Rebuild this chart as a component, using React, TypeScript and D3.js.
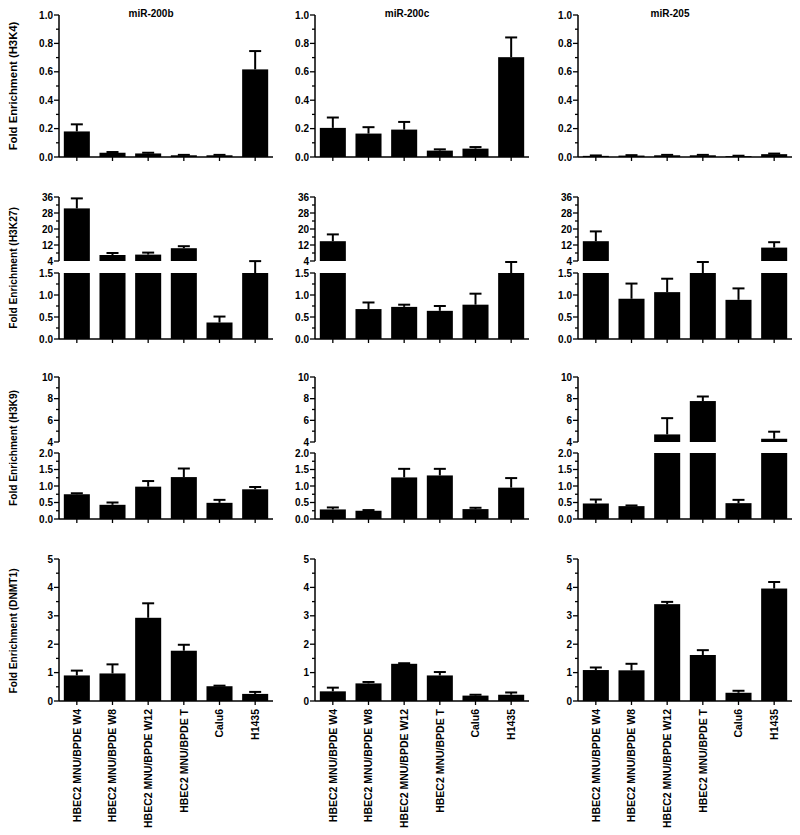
import React from "react";
import * as d3 from "d3";

const categories = [
  "HBEC2 MNU/BPDE W4",
  "HBEC2 MNU/BPDE W8",
  "HBEC2 MNU/BPDE W12",
  "HBEC2 MNU/BPDE T",
  "Calu6",
  "H1435",
];
const mirnas = ["miR-200b", "miR-200c", "miR-205"];
const marks = ["H3K4", "H3K27", "H3K9", "DNMT1"];

// mean values per miRNA column
const h3k4Mean = [
  [0.18, 0.03, 0.025, 0.012, 0.012, 0.617],
  [0.205, 0.165, 0.193, 0.045, 0.059, 0.703],
  [0.008, 0.01, 0.012, 0.012, 0.006, 0.02],
];
const h3k4Upper = [
  [0.23, 0.035, 0.03, 0.015, 0.015, 0.746],
  [0.278, 0.21, 0.247, 0.054, 0.07, 0.842],
  [0.011, 0.013, 0.015, 0.015, 0.009, 0.024],
];
const h3k27Mean = [
  [30.3, 7.0, 7.2, 10.4, 0.375, 1.5],
  [13.9, 0.68, 0.73, 0.64, 0.78, 1.5],
  [13.9, 0.915, 1.065, 1.5, 0.89, 10.7],
];
const h3k27Upper = [
  [35.3, 8.0, 8.2, 11.4, 0.51, 1.77],
  [17.3, 0.83, 0.78, 0.75, 1.03, 1.75],
  [18.8, 1.26, 1.37, 1.75, 1.15, 13.4],
];
const h3k9Mean = [
  [0.75, 0.43, 0.98, 1.27, 0.49, 0.9],
  [0.29, 0.25, 1.26, 1.32, 0.3, 0.95],
  [0.47, 0.39, 4.7, 7.78, 0.48, 4.3],
];
const h3k9Upper = [
  [0.78, 0.5, 1.15, 1.53, 0.58, 0.97],
  [0.35, 0.27, 1.52, 1.52, 0.34, 1.24],
  [0.59, 0.41, 6.2, 8.2, 0.58, 4.95],
];
const dnmt1Mean = [
  [0.9, 0.97, 2.93, 1.77, 0.52, 0.25],
  [0.34, 0.62, 1.31, 0.9, 0.19, 0.22],
  [1.09, 1.08, 3.41, 1.62, 0.29, 3.96],
];
const dnmt1Upper = [
  [1.07, 1.29, 3.44, 1.98, 0.54, 0.32],
  [0.47, 0.67, 1.33, 1.02, 0.22, 0.3],
  [1.18, 1.31, 3.49, 1.79, 0.36, 4.19],
];

const h3k4Ticks = [0, 0.2, 0.4, 0.6, 0.8, 1.0];
const h3k27LowTicks = [0, 0.5, 1.0, 1.5];
const h3k27HighTicks = [4, 12, 20, 28, 36];
const h3k9LowTicks = [0, 0.5, 1.0, 1.5, 2.0];
const h3k9HighTicks = [4, 6, 8, 10];
const dnmt1Ticks = [0, 1, 2, 3, 4, 5];

type Seg = {
  domain: [number, number];
  range: [number, number];
  ticks: number[];
  minor: number;
  fmt: (v: number) => string;
};

const f1 = d3.format(".1f");
const f0 = d3.format("d");

const rows: { segs: Seg[]; mean: number[][]; upper: number[][]; labelY: number; labelSize: number }[] = [
  {
    segs: [{ domain: [0, 1], range: [157, 15], ticks: h3k4Ticks, minor: 0.1, fmt: f1 }],
    mean: h3k4Mean,
    upper: h3k4Upper,
    labelY: 86,
    labelSize: 11.3,
  },
  {
    segs: [
      { domain: [0, 1.5], range: [339, 273], ticks: h3k27LowTicks, minor: 0.25, fmt: f1 },
      { domain: [4, 36], range: [261, 197], ticks: h3k27HighTicks, minor: 4, fmt: f0 },
    ],
    mean: h3k27Mean,
    upper: h3k27Upper,
    labelY: 268,
    labelSize: 10.2,
  },
  {
    segs: [
      { domain: [0, 2], range: [519, 453], ticks: h3k9LowTicks, minor: 0.25, fmt: f1 },
      { domain: [4, 10], range: [442, 377], ticks: h3k9HighTicks, minor: 1, fmt: f0 },
    ],
    mean: h3k9Mean,
    upper: h3k9Upper,
    labelY: 448,
    labelSize: 10.2,
  },
  {
    segs: [{ domain: [0, 5], range: [701, 559], ticks: dnmt1Ticks, minor: 0.5, fmt: f0 }],
    mean: dnmt1Mean,
    upper: dnmt1Upper,
    labelY: 631,
    labelSize: 10.2,
  },
];

const axisX = [59, 315, 578];
const plotW = 214;
const FONT = "'Liberation Sans', Arial, Helvetica, sans-serif";

function Panel({ ax, rowIdx, colIdx }: { ax: number; rowIdx: number; colIdx: number }) {
  const row = rows[rowIdx];
  const x = d3
    .scaleBand<string>()
    .domain(categories)
    .range([ax, ax + plotW])
    .paddingInner(0.27)
    .paddingOuter(0.135);
  const scales = row.segs.map((s) => d3.scaleLinear().domain(s.domain).range(s.range));
  const y0 = row.segs[0].range[0];
  const elems: React.ReactNode[] = [];

  // axes
  row.segs.forEach((s, si) => {
    const sc = scales[si];
    elems.push(
      <line key={`ax${si}`} x1={ax} x2={ax} y1={s.range[0]} y2={s.range[1]} stroke="#000" strokeWidth={1.5} />
    );
    const nMinor = Math.round((s.domain[1] - s.domain[0]) / s.minor);
    for (let i = 0; i <= nMinor; i++) {
      const v = s.domain[0] + i * s.minor;
      const yy = sc(v);
      const major = s.ticks.some((t) => Math.abs(t - v) < 1e-9);
      elems.push(
        <line key={`mt${si}-${i}`} x1={ax - (major ? 5 : 3)} x2={ax} y1={yy} y2={yy} stroke="#000" strokeWidth={1.3} />
      );
    }
    s.ticks.forEach((t, ti) => {
      elems.push(
        <text
          key={`tl${si}-${ti}`}
          x={ax - 6}
          y={sc(t)}
          dy="0.35em"
          textAnchor="end"
          fontSize={10}
          fontWeight="bold"
          fontFamily={FONT}
        >
          {s.fmt(t)}
        </text>
      );
    });
  });

  // x axis
  elems.push(<line key="xa" x1={ax} x2={ax + plotW} y1={y0} y2={y0} stroke="#000" strokeWidth={1.5} />);
  categories.forEach((c, i) => {
    const cx = (x(c) as number) + x.bandwidth() / 2;
    elems.push(<line key={`xt${i}`} x1={cx} x2={cx} y1={y0} y2={y0 + 4} stroke="#000" strokeWidth={1.3} />);
  });

  // bars
  const bw = x.bandwidth();
  const capW = 12;
  categories.forEach((c, i) => {
    const v = row.mean[colIdx][i];
    const e = row.upper[colIdx][i];
    const bx = x(c) as number;
    const cx = bx + bw / 2;
    const s0 = row.segs[0];
    const sc0 = scales[0];
    const lowTop = sc0(Math.min(v, s0.domain[1]));
    elems.push(<rect key={`b${i}`} x={bx} y={lowTop} width={bw} height={y0 - lowTop} fill="#000" />);
    let esc = sc0;
    if (row.segs.length > 1 && v > s0.domain[1]) {
      const s1 = row.segs[1];
      const sc1 = scales[1];
      const top = sc1(v);
      elems.push(
        <rect key={`bu${i}`} x={bx} y={top} width={bw} height={s1.range[0] - top} fill="#000" />
      );
      esc = sc1;
    }
    const ytop = esc(v);
    const yerr = esc(e);
    elems.push(<line key={`e${i}`} x1={cx} x2={cx} y1={ytop} y2={yerr} stroke="#000" strokeWidth={2} />);
    elems.push(
      <line key={`ec${i}`} x1={cx - capW / 2} x2={cx + capW / 2} y1={yerr} y2={yerr} stroke="#000" strokeWidth={2} />
    );
  });

  return <g>{elems}</g>;
}

export default function App() {
  return (
    <svg
      width={800}
      height={835}
      viewBox="0 0 800 835"
      style={{ position: "absolute", left: 0, top: 0, background: "#fff" }}
    >
      <rect x={0} y={0} width={800} height={835} fill="#fff" />
      {mirnas.map((m, ci) => (
        <text
          key={`t${ci}`}
          x={axisX[ci] + 92}
          y={17}
          textAnchor="middle"
          fontSize={10}
          fontWeight="bold"
          fontFamily={FONT}
        >
          {m}
        </text>
      ))}
      {rows.map((r, ri) => (
        <text
          key={`yl${ri}`}
          transform={`translate(13,${r.labelY}) rotate(-90)`}
          textAnchor="middle"
          dy="0.35em"
          fontSize={r.labelSize}
          fontWeight="bold"
          fontFamily={FONT}
        >
          {`Fold Enrichment (${marks[ri]})`}
        </text>
      ))}
      {rows.map((_, ri) =>
        axisX.map((ax, ci) => <Panel key={`p${ri}-${ci}`} ax={ax} rowIdx={ri} colIdx={ci} />)
      )}
      {axisX.map((ax, ci) => {
        const x = d3
          .scaleBand<string>()
          .domain(categories)
          .range([ax, ax + plotW])
          .paddingInner(0.27)
          .paddingOuter(0.135);
        return categories.map((c, i) => {
          const cx = (x(c) as number) + x.bandwidth() / 2;
          return (
            <text
              key={`xl${ci}-${i}`}
              transform={`translate(${cx},709) rotate(-90)`}
              textAnchor="end"
              dy="0.35em"
              fontSize={10.5}
              fontWeight="bold"
              fontFamily={FONT}
            >
              {c}
            </text>
          );
        });
      })}
    </svg>
  );
}
